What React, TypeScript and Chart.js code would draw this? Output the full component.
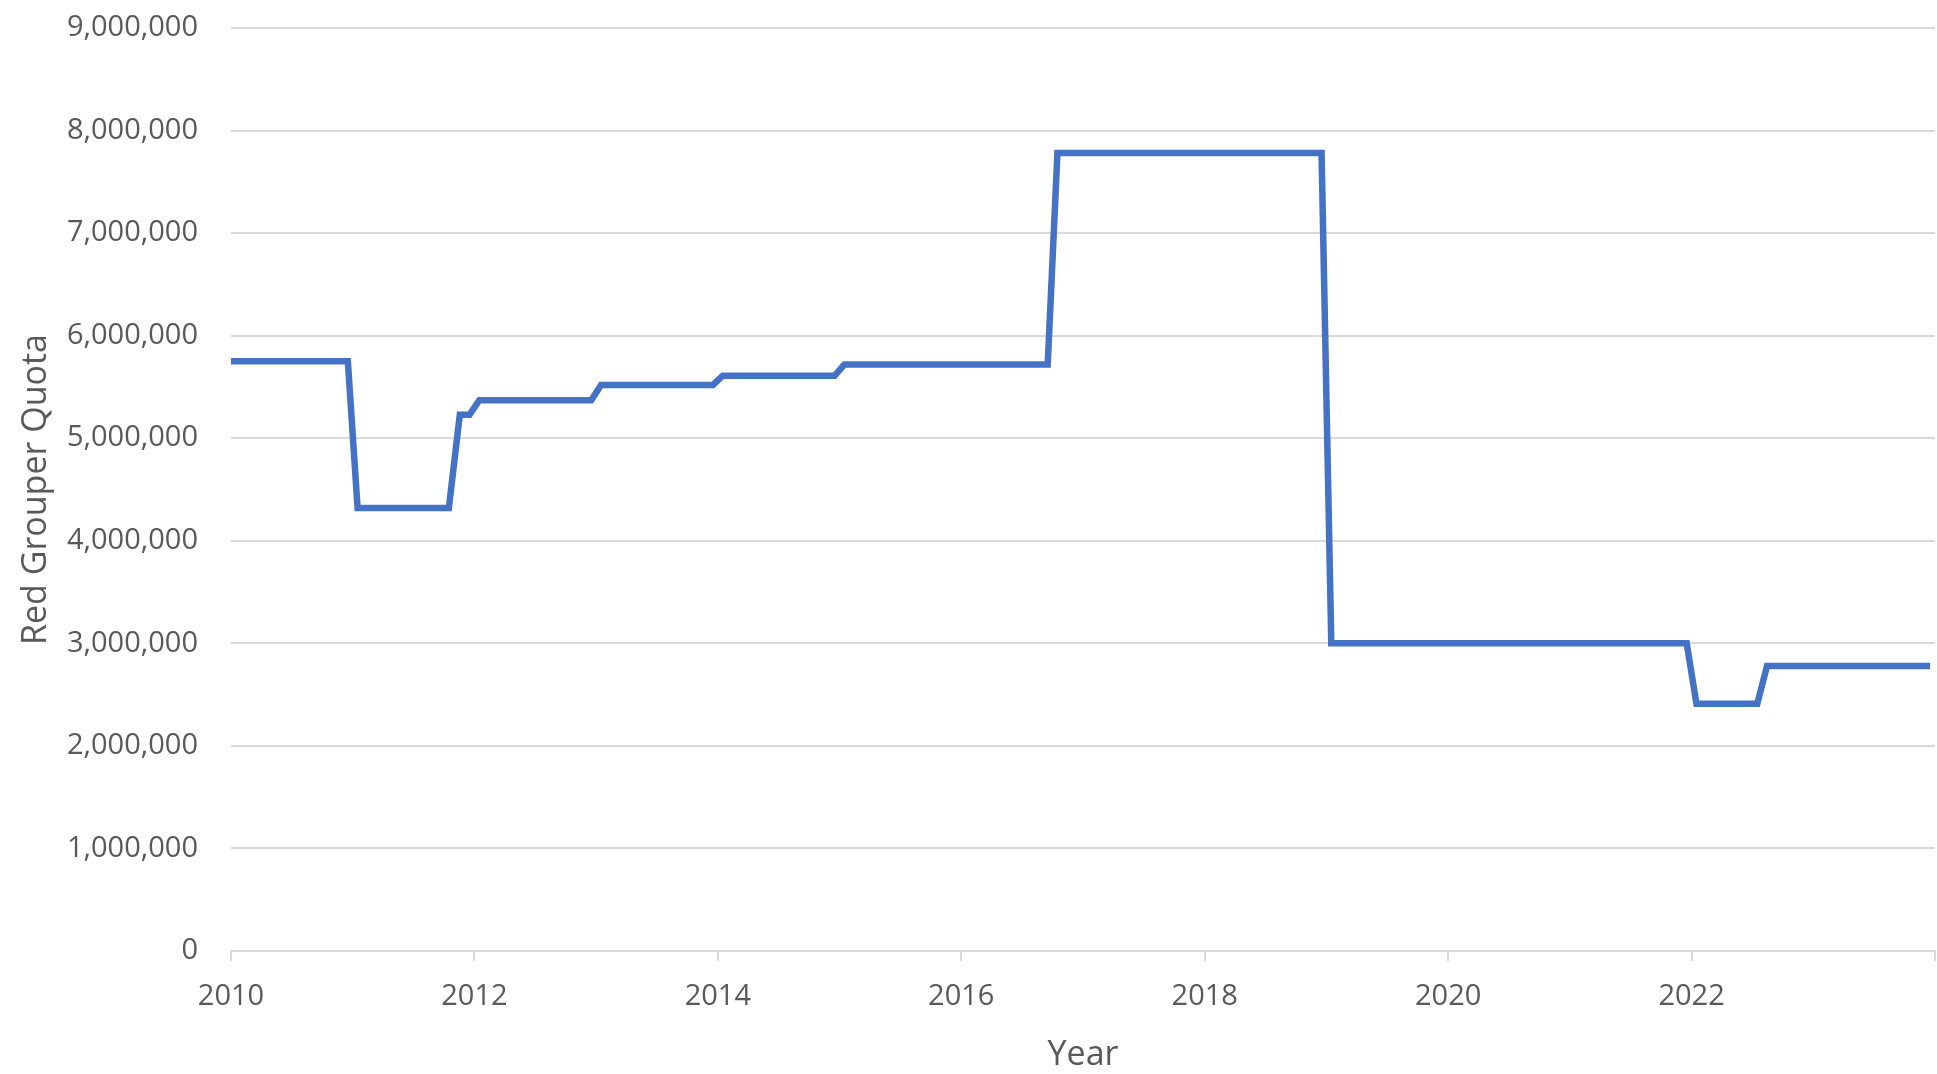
import { useEffect, useRef } from 'react';
import { Chart, registerables } from 'chart.js';

Chart.register(...registerables);

// Change points of the quota series (decimal year, monthly mid-points)
const yearPoints = [
  2010.0, 2010.96, 2011.04, 2011.79, 2011.88, 2011.96, 2012.04, 2012.96,
  2013.04, 2013.96, 2014.04, 2014.96, 2015.04, 2016.71, 2016.79, 2018.96,
  2019.04, 2021.96, 2022.04, 2022.54, 2022.62, 2023.96,
];
const quotaValues = [
  5750000, 5750000, 4320000, 4320000, 5230000, 5230000, 5370000, 5370000,
  5520000, 5520000, 5610000, 5610000, 5720000, 5720000, 7780000, 7780000,
  3000000, 3000000, 2410000, 2410000, 2780000, 2780000,
];
const xTickYears = [2010, 2012, 2014, 2016, 2018, 2020, 2022, 2024];
const xTickLabels = ['2010', '2012', '2014', '2016', '2018', '2020', '2022', ''];
const yMin = 0;
const yMax = 9000000;
const yStep = 1000000;
const xTitle = 'Year';
const yTitle = 'Red Grouper Quota';

const FONT = '"Open Sans", "Noto Sans", sans-serif';
const TEXT = '#595959';
const GRID = '#d9d9d9';

export default function App() {
  const ref = useRef<HTMLCanvasElement>(null);

  useEffect(() => {
    if (!ref.current) return;
    const chart = new Chart(ref.current, {
      type: 'line',
      data: {
        datasets: [
          {
            data: yearPoints.map((x, i) => ({ x, y: quotaValues[i] })),
            borderColor: '#4472C4',
            backgroundColor: '#4472C4',
            borderWidth: 6.5,
            pointRadius: 0,
            tension: 0,
            fill: false,
          },
        ],
      },
      options: {
        responsive: false,
        animation: false,
        devicePixelRatio: 1,
        layout: { padding: { top: 28, right: 2, bottom: 0, left: 0 } },
        plugins: {
          legend: { display: false },
          tooltip: { enabled: false },
        },
        scales: {
          x: {
            type: 'linear',
            min: 2010,
            max: 2024,
            afterBuildTicks: (s: any) => {
              s.ticks = xTickYears.map((v) => ({ value: v }));
            },
            ticks: {
              autoSkip: false,
              maxRotation: 0,
              padding: 18,
              color: TEXT,
              font: { family: FONT, size: 29 },
              callback: (v: any) => {
                const i = xTickYears.indexOf(Number(v));
                return i >= 0 ? xTickLabels[i] : '';
              },
            },
            grid: {
              drawOnChartArea: false,
              drawTicks: true,
              tickLength: 10,
              color: GRID,
              lineWidth: 2,
            },
            border: { display: true, color: GRID, width: 2 },
            title: {
              display: true,
              text: xTitle,
              color: TEXT,
              font: { family: FONT, size: 34, lineHeight: 1.1 },
              padding: { top: 0, bottom: 0 },
            },
            afterFit: (s: any) => {
              s.height = 1074 - 951;
              s.paddingLeft = 0;
              s.paddingRight = 0;
            },
          },
          y: {
            min: yMin,
            max: yMax,
            ticks: {
              stepSize: yStep,
              padding: 33,
              color: TEXT,
              font: { family: FONT, size: 29 },
              callback: (v: any) => Number(v).toLocaleString('en-US'),
            },
            grid: { color: GRID, lineWidth: 2, drawTicks: false },
            border: { display: false },
            title: {
              display: true,
              text: yTitle,
              color: TEXT,
              font: { family: FONT, size: 34 },
              padding: { top: 16, bottom: 0 },
            },
            afterFit: (s: any) => {
              s.width = 231;
              s.paddingTop = 0;
              s.paddingBottom = 0;
            },
          },
        },
      },
    });
    return () => chart.destroy();
  }, []);

  return (
    <div
      style={{
        position: 'absolute',
        left: 0,
        top: 0,
        width: 1937,
        height: 1074,
        background: '#ffffff',
      }}
    >
      <canvas ref={ref} width={1937} height={1074} style={{ display: 'block' }} />
    </div>
  );
}
